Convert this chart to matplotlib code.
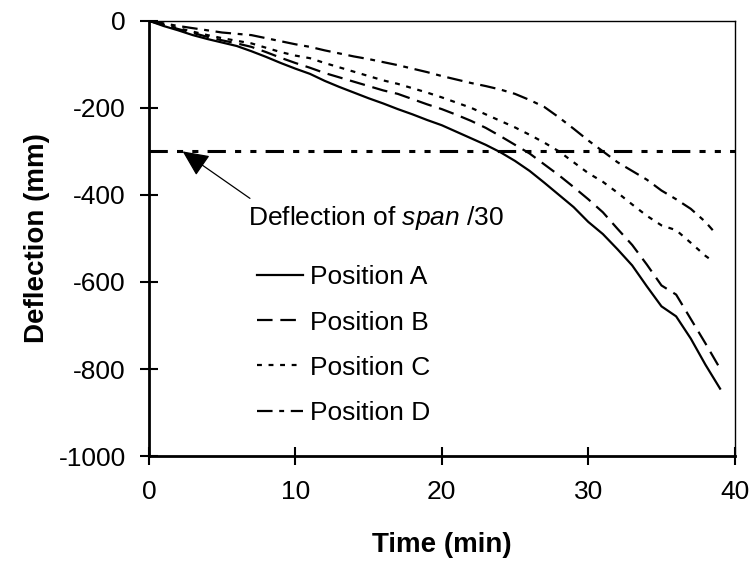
import numpy as np
import matplotlib
matplotlib.use("Agg")
from matplotlib import pyplot as plt

plt.rcParams['font.family'] = ['Liberation Sans', 'DejaVu Sans']
plt.rcParams['mathtext.fontset'] = 'custom'
plt.rcParams['mathtext.rm'] = 'Liberation Sans'
plt.rcParams['mathtext.it'] = 'Liberation Sans:italic'
plt.rcParams['axes.unicode_minus'] = False

# time (min)
time_ab = list(range(0, 40))
time_cd = list(range(0, 39)) + [38.5]

# deflection (mm)
pos_a = [0, -12, -22, -33, -42, -50, -58, -70, -83, -97,
         -110, -122, -138, -152, -165, -178, -190, -203, -215, -228,
         -240, -255, -270, -285, -302, -322, -345, -372, -400, -428,
         -462, -490, -525, -562, -610, -656, -679, -730, -790, -845]
pos_b = [0, -10, -19, -28, -37, -45, -52, -60, -72, -85,
         -97, -108, -120, -130, -140, -150, -160, -168, -180, -192,
         -203, -216, -230, -246, -265, -285, -305, -330, -355, -382,
         -410, -440, -478, -515, -560, -608, -629, -685, -741, -799]
pos_c = [0, -9, -17, -25, -33, -40, -46, -52, -62, -72,
         -80, -86, -97, -107, -117, -127, -137, -145, -155, -165,
         -176, -188, -200, -215, -230, -245, -262, -280, -300, -325,
         -350, -370, -395, -422, -448, -470, -481, -510, -540, -552]
pos_d = [0, -6, -12, -17, -22, -27, -30, -33, -40, -47,
         -54, -60, -68, -75, -82, -88, -95, -102, -110, -118,
         -127, -135, -143, -150, -158, -168, -182, -198, -222, -248,
         -275, -300, -325, -345, -365, -390, -410, -432, -462, -481]

limit = -300  # span/30

fig = plt.figure(figsize=(7.52, 5.61), dpi=100)
ax = fig.add_axes([0.198, 0.187, 0.779, 0.776])

lw = 1.6
ax.plot(time_ab, pos_a, color='black', lw=lw, label='Position A')
ax.plot(time_ab, pos_b, color='black', lw=lw, dashes=(7, 3.5), label='Position B')
ax.plot(time_cd, pos_c, color='black', lw=lw, dashes=(2.2, 3), label='Position C')
ax.plot(time_cd, pos_d, color='black', lw=lw, dashes=(7, 3, 2.2, 3), label='Position D')

ax.plot([0, 40], [limit, limit], color='black', lw=2.2,
        dashes=(6, 3, 2, 3, 2, 3), clip_on=False)

ax.annotate('', xy=(2.3, limit), xytext=(6.9, -408),
            arrowprops=dict(arrowstyle='-|>,head_length=0.9,head_width=0.42',
                            mutation_scale=18, color='black', lw=0.9,
                            shrinkA=0, shrinkB=0))
ax.text(6.8, -453, 'Deflection of $\\mathit{span}$ /30', fontsize=19,
        ha='left', va='center')

ax.set_xlim(0, 40)
ax.set_ylim(-1000, 0)
ax.set_xticks([0, 10, 20, 30, 40])
ax.set_yticks([0, -200, -400, -600, -800, -1000])
ax.tick_params(direction='inout', length=13, width=1.5, labelsize=19)
ax.tick_params(axis='y', pad=10)
ax.tick_params(axis='x', pad=11)

ax.spines['left'].set_linewidth(2)
ax.spines['bottom'].set_linewidth(2)
ax.spines['top'].set_linewidth(1)
ax.spines['right'].set_linewidth(1)

ax.set_xlabel('Time (min)', fontsize=20, fontweight='bold', labelpad=20)
ax.set_ylabel('Deflection (mm)', fontsize=20, fontweight='bold', labelpad=6)

ax.legend(loc='upper left', bbox_to_anchor=(0.185, 0.438), frameon=False,
          fontsize=19, handlelength=1.75, handletextpad=0.25,
          labelspacing=0.8, borderpad=0, borderaxespad=0)

fig.savefig('out.png', dpi=100)
